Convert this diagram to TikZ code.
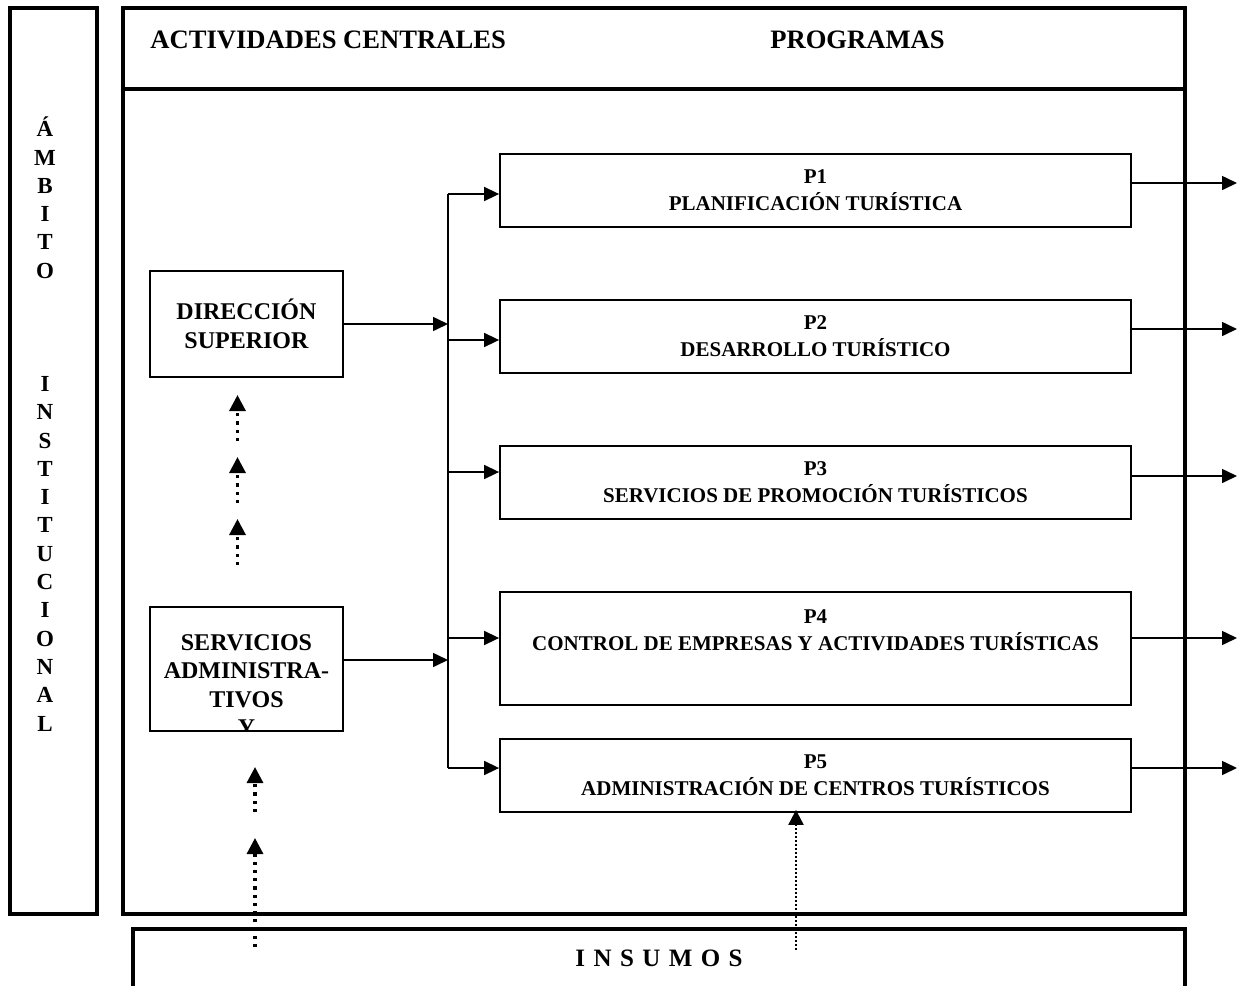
\documentclass[tikz,border=0pt]{standalone}
\usepackage{fontspec}
\setmainfont{Liberation Serif}
\usepackage{tikz}
\usetikzlibrary{
  arrows.meta,
  positioning,
  calc,
}
\tikzset{
  frame/.style={
    draw, line width=1.7pt, inner sep=0pt,
  },
  frameline/.style={
    line width=1.7pt,
  },
  progtext/.style={
    align=center, inner sep=0pt,
    font=\fontsize{10.5}{13.5}\selectfont\bfseries,
  },
  progbox/.style={
    progtext, draw, line width=0.9pt,
    minimum width=315.5pt, minimum height=36.5pt,
  },
  unittext/.style={
    align=center, inner sep=0pt,
    font=\fontsize{12}{14.2}\selectfont\bfseries,
  },
  unitbox/.style={
    unittext, draw, line width=0.9pt, minimum width=96.5pt,
  },
  headtext/.style={
    inner sep=0pt, font=\fontsize{13.3}{16}\selectfont\bfseries,
  },
  conn/.style={
    line width=0.8pt,
  },
  arrowIn/.style={
    conn, -{Triangle[length=7.5pt,width=7pt]},
  },
  dotArrow/.style={
    line width=1.6pt, dash pattern=on 1.6pt off 2.5pt,
    -{Triangle[length=8pt,width=8pt]},
  },
  dotArrowThin/.style={
    line width=1pt, dash pattern=on 1pt off 1pt,
    -{Triangle[length=7.5pt,width=7.5pt]},
  },
}

\begin{document}
\begin{tikzpicture}[x=0.5pt, y=-0.5pt]
\useasboundingbox (0,0) rectangle (1244,986);

% Frames
\node[frame, minimum width=43.5pt, minimum height=453pt] (ambito) at (53.5,461) {};
\node[frame, minimum width=531pt, minimum height=453pt] (central) at (654,461) {};
\coordinate (hdr) at (0,89);
\draw[frameline] (central.west |- hdr) -- (central.east |- hdr);
\draw[frameline] (133,995) -- (133,929) -- (1185,929) -- (1185,995);

% Texts of the frames
\node[font=\fontsize{11.5}{14.15}\selectfont\bfseries, align=center, inner sep=0pt]
   (ambitoText) at (45,424)
   {Á\\M\\B\\I\\T\\O\\\mbox{}\\\mbox{}\\\mbox{}\\I\\N\\S\\T\\I\\T\\U\\C\\I\\O\\N\\A\\L};
\node[headtext, anchor=base west] (actTitle) at (150,48) {ACTIVIDADES CENTRALES};
\node[headtext, anchor=base] (progTitle) at (857.5,48) {PROGRAMAS};
\node[font=\fontsize{12.5}{15}\selectfont\bfseries, inner sep=0pt]
   (insumos) at (659,958) {\spaceskip=4.2pt\relax I N S U M O S};

% Central activities
\node[unitbox, minimum height=53pt] (dir) at (246.5,324) {DIRECCIÓN\\SUPERIOR};
\node[unitbox, minimum height=62pt] (serv) at (246.5,669) {};
\begin{scope}
  \clip (serv.south west) rectangle (serv.north east);
  \node[unittext] (servText) at (246.5,685) {SERVICIOS\\ADMINISTRA-\\TIVOS\\Y};
\end{scope}

% Programs
\node[progbox] (p1) at (815.5,190.5) {P1\\PLANIFICACIÓN TURÍSTICA};
\node[progbox] (p2) at (815.5,336.5) {P2\\DESARROLLO TURÍSTICO};
\node[progbox] (p3) at (815.5,482.5) {P3\\SERVICIOS DE PROMOCIÓN TURÍSTICOS};
\node[progbox, minimum height=56.5pt] (p4) at (815.5,648.5) {};
\node[progtext] (p4Text) at (815.5,630) {P4\\CONTROL DE EMPRESAS Y ACTIVIDADES TURÍSTICAS};
\node[progbox] (p5) at (815.5,775.5) {P5\\ADMINISTRACIÓN DE CENTROS TURÍSTICOS};

% Distribution bus
\coordinate (busTop) at (448,194);
\coordinate (busBot) at (448,768);
\coordinate (outEnd) at (1237,0);
\draw[conn] (busTop) -- (busBot);
\draw[arrowIn] (dir.east) -- (dir.east -| busTop);
\coordinate (servOut) at ([yshift=4.5pt]serv.east);
\draw[arrowIn] (servOut) -- (servOut -| busTop);

\foreach \p/\din/\dout in {p1/-1.75/3.75, p2/-1.75/3.75, p3/5.25/3.25,
                           p4/5.25/5.25, p5/3.75/3.75}
{
  \coordinate (\p in) at ([yshift=\din pt]\p.west);
  \coordinate (\p out) at ([yshift=\dout pt]\p.east);
  \draw[arrowIn] (busTop |- \p in) -- (\p in);
  \draw[arrowIn] (\p out) -- (\p out -| outEnd);
}

% Dotted inputs
\foreach \t [count=\i] in {395,457,519}
{
  \coordinate (upTail\i) at (237.5,\t+46);
  \coordinate (upTip\i) at (237.5,\t);
  \draw[dotArrow] (upTail\i) -- (upTip\i);
}
\coordinate (lowTailA) at (255,812);
\coordinate (lowTipA) at (255,767);
\draw[dotArrow] (lowTailA) -- (lowTipA);
\coordinate (lowTailB) at (255,947);
\coordinate (lowTipB) at (255,838);
\draw[dotArrow] (lowTailB) -- (lowTipB);
\coordinate (insTail) at (796,950);
\draw[dotArrowThin] (insTail) -- ([yshift=1.5pt]p5.south -| insTail);

\end{tikzpicture}
\end{document}
